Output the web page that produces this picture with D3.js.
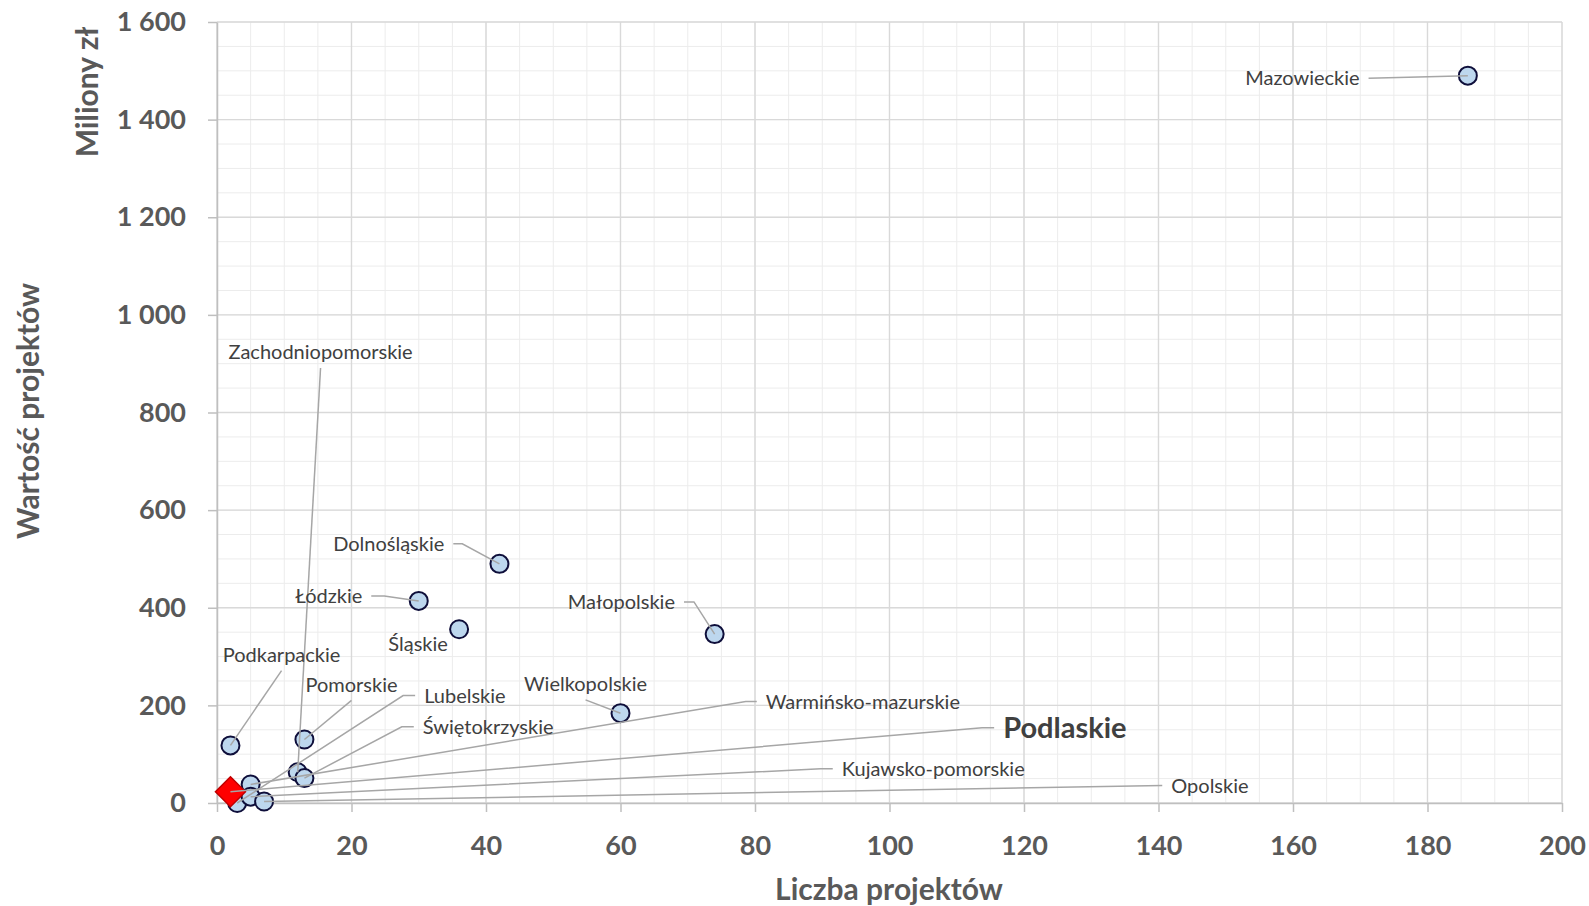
<!DOCTYPE html>
<html lang="pl">
<head>
<meta charset="utf-8">
<title>Liczba i wartość projektów według województw</title>
<script src="https://cdn.jsdelivr.net/npm/d3@7"></script>
<style>
  html, body { margin: 0; padding: 0; background: #fff; }
  svg { display: block; font-family: Lato, "Open Sans", sans-serif; }
</style>
</head>
<body>
<div id="chart"></div>
<script>
//#region Data
const regions = [
    "Mazowieckie", "Zachodniopomorskie", "Dolnośląskie", "Łódzkie", "Śląskie",
    "Małopolskie", "Podkarpackie", "Pomorskie", "Lubelskie", "Świętokrzyskie",
    "Wielkopolskie", "Warmińsko-mazurskie", "Podlaskie", "Kujawsko-pomorskie", "Opolskie"
];
const projectCounts = [186, 12, 42, 30, 36, 74, 2, 13, 3, 13, 60, 5, 2, 5, 7];   // liczba projektów
const projectValues = [1490, 63, 490, 414, 356, 346, 118, 130, 0, 51, 184, 38, 23, 13, 3]; // mln zł
const highlighted = "Podlaskie";

const xTickValues = [0, 20, 40, 60, 80, 100, 120, 140, 160, 180, 200];
const yTickValues = [0, 200, 400, 600, 800, 1000, 1200, 1400, 1600];

// Hand-placed data labels (in data units, like the moved labels in the original)
const labelX = [169.9, 15.4, 33.8, 21.6, 29.9, 68.1, 9.6, 20.0, 30.8, 30.6, 54.8, 81.6, 116.9, 92.9, 141.9];
const labelY = [1485, 924, 531, 424, 326, 412, 304, 243, 220, 156, 244, 208, 154, 70, 36];
const labelAnchor = ["end", "middle", "end", "end", "middle", "end", "middle", "middle",
    "start", "start", "middle", "start", "start", "start", "start"];
const leaderType = ["side", "below", "side", "side", "none", "side", "below", "below",
    "side", "side", "below", "side", "side", "side", "side"];
const leaderElbow = [0, 0, 9, 13, 0, 10, 0, 0, 12, 12, 0, 11, 12, 12, 0];
//#endregion

document.addEventListener("DOMContentLoaded", function () {
    createScatter();
});

function createScatter() {
    const totalWidth = 1589, totalHeight = 906;
    const margin = { top: 22, right: 27, bottom: 103, left: 217 };
    const width = totalWidth - margin.left - margin.right;
    const height = totalHeight - margin.top - margin.bottom;

    const points = regions.map((name, i) => ({
        name,
        count: projectCounts[i],
        value: projectValues[i],
        lx: labelX[i],
        ly: labelY[i],
        anchor: labelAnchor[i],
        leader: leaderType[i],
        elbow: leaderElbow[i]
    }));

    const svg = d3.select("#chart")
        .append("svg")
        .attr("width", totalWidth)
        .attr("height", totalHeight);

    const g = svg.append("g")
        .attr("transform", `translate(${margin.left},${margin.top})`);

    const x = d3.scaleLinear().domain([0, 200]).range([0, width]);
    const y = d3.scaleLinear().domain([0, 1600]).range([height, 0]);

    const pl = d3.formatLocale({ decimal: ",", thousands: " ", grouping: [3], currency: ["", " zł"] });
    const formatValue = pl.format(",d");

    // minor gridlines
    const grid = g.append("g");
    grid.selectAll(".vminor")
        .data(x.ticks(50))
        .enter().append("line")
        .attr("x1", d => x(d)).attr("x2", d => x(d))
        .attr("y1", 0).attr("y2", height)
        .attr("stroke", "#ececec").attr("stroke-width", 1);
    grid.selectAll(".hminor")
        .data(y.ticks(40))
        .enter().append("line")
        .attr("x1", 0).attr("x2", width)
        .attr("y1", d => y(d)).attr("y2", d => y(d))
        .attr("stroke", "#ececec").attr("stroke-width", 1);

    // major gridlines
    grid.selectAll(".vmajor")
        .data(xTickValues)
        .enter().append("line")
        .attr("x1", d => x(d)).attr("x2", d => x(d))
        .attr("y1", 0).attr("y2", height)
        .attr("stroke", "#d9d9d9").attr("stroke-width", 1.4);
    grid.selectAll(".hmajor")
        .data(yTickValues)
        .enter().append("line")
        .attr("x1", 0).attr("x2", width)
        .attr("y1", d => y(d)).attr("y2", d => y(d))
        .attr("stroke", "#d9d9d9").attr("stroke-width", 1.4);

    // axes
    const xAxis = g.append("g")
        .attr("transform", `translate(0,${height})`)
        .call(d3.axisBottom(x).tickValues(xTickValues).tickSize(9).tickSizeOuter(0).tickPadding(24));

    const yAxis = g.append("g")
        .call(d3.axisLeft(y).tickValues(yTickValues).tickFormat(formatValue)
            .tickSize(9).tickSizeOuter(0).tickPadding(22));

    [xAxis, yAxis].forEach(ax => {
        ax.attr("font-family", null).attr("font-size", null);
        ax.select(".domain").attr("stroke", "#bfbfbf").attr("stroke-width", 1.5);
        ax.selectAll(".tick line").attr("stroke", "#bfbfbf").attr("stroke-width", 1.5);
        ax.selectAll(".tick text")
            .attr("fill", "#595959")
            .style("font-size", "27px")
            .style("font-weight", "bold");
    });

    // axis titles
    svg.append("text")
        .attr("x", 889)
        .attr("y", 900)
        .attr("text-anchor", "middle")
        .attr("fill", "#595959")
        .style("font-size", "30px")
        .style("font-weight", "bold")
        .text("Liczba projektów");

    svg.append("text")
        .attr("transform", "translate(39,411) rotate(-90)")
        .attr("text-anchor", "middle")
        .attr("fill", "#595959")
        .style("font-size", "30px")
        .style("font-weight", "bold")
        .text("Wartość projektów");

    svg.append("text")
        .attr("transform", "translate(98,92) rotate(-90)")
        .attr("text-anchor", "middle")
        .attr("fill", "#595959")
        .style("font-size", "30px")
        .style("font-weight", "bold")
        .text("Miliony zł");

    // markers
    g.append("g")
        .selectAll("circle")
        .data(points.filter(d => d.name !== highlighted))
        .enter().append("circle")
        .attr("cx", d => x(d.count))
        .attr("cy", d => y(d.value))
        .attr("r", 9)
        .attr("fill", "#bdd7ee")
        .attr("stroke", "#0e0e3a")
        .attr("stroke-width", 2);

    g.append("g")
        .selectAll("path")
        .data(points.filter(d => d.name === highlighted))
        .enter().append("path")
        .attr("transform", d => `translate(${x(d.count)},${y(d.value)})`)
        .attr("d", "M0,-15L15,0L0,15L-15,0Z")
        .attr("fill", "#ff0000")
        .attr("stroke", "#c00000")
        .attr("stroke-width", 1.5);

    // leader lines go over the markers, labels on top of everything
    const leaderLayer = g.append("g");

    const labels = g.append("g")
        .selectAll("text")
        .data(points)
        .enter().append("text")
        .attr("x", d => x(d.lx))
        .attr("y", d => y(d.ly))
        .attr("dy", "0.36em")
        .attr("text-anchor", d => d.anchor)
        .attr("fill", "#404040")
        .style("font-size", d => d.name === highlighted ? "29px" : "20px")
        .style("font-weight", d => d.name === highlighted ? "bold" : "normal")
        .text(d => d.name);

    const gap = 9;
    const leaders = [];
    labels.each(function (d) {
        if (d.leader === "none") return;
        const tx = x(d.lx), ty = y(d.ly);
        const w = this.getComputedTextLength();
        const px = x(d.count), py = y(d.value);
        let pts;
        if (d.leader === "below") {
            pts = [[tx, ty + 16], [px, py]];
        } else {
            // side leader: starts next to the label edge facing the point
            let edge;
            if (d.anchor === "end") edge = tx + gap;
            else if (d.anchor === "start") edge = tx - gap;
            else edge = tx + w / 2 + gap;
            const dir = d.anchor === "start" ? -1 : 1;
            pts = [[edge, ty]];
            if (d.elbow > 0) pts.push([edge + dir * d.elbow, ty]);
            pts.push([px, py]);
        }
        leaders.push(pts);
    });

    leaderLayer.selectAll("path")
        .data(leaders)
        .enter().append("path")
        .attr("d", d3.line())
        .attr("fill", "none")
        .attr("stroke", "#a6a6a6")
        .attr("stroke-width", 1.5);
}
</script>
</body>
</html>
